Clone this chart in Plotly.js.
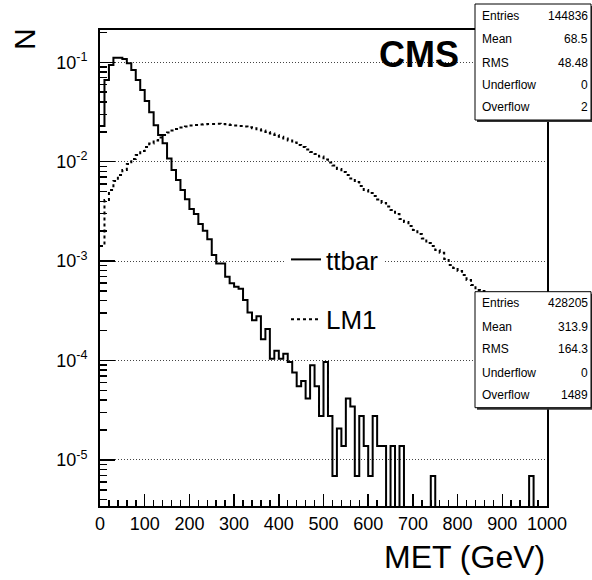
<!DOCTYPE html>
<html><head><meta charset="utf-8">
<script src="https://cdn.plot.ly/plotly-3.0.1.min.js"></script>
<style>html,body{margin:0;padding:0;background:#fff}#chart{width:592px;height:580px}</style>
</head><body><div id="chart"></div><script>
// Histogram definition: 100 bins from 0 to 1000 GeV
const binLow = 0, binHigh = 1000, nBins = 100;

// ttbar MET distribution (normalised), bin by bin
const ttbar = [
 0.0229,0.0664,0.0940,0.111,0.111,0.108,0.0977,0.0837,0.0664,0.0526,
 0.0408,0.0314,0.0232,0.0186,0.0153,0.0108,0.00826,0.00655,0.00519,0.00419,
 0.00334,0.00298,0.00236,0.00202,0.00166,0.00115,0.000946,0.000946,0.000697,0.000598,
 0.000553,0.000527,0.000406,0.000304,0.000254,0.000279,0.000164,0.000207,0.000104,0.000125,
 0.000104,0.000117,9.66e-5,7.59e-5,5.52e-5,6.21e-5,4.14e-5,8.97e-5,5.52e-5,2.76e-5,
 9.66e-5,2.76e-5,6.9e-6,2.07e-5,1.38e-5,4.14e-5,3.45e-5,6.9e-6,2.76e-5,1.38e-5,
 6.9e-6,2.76e-5,1.38e-5,1.38e-5,0,1.38e-5,0,1.38e-5,0,0,
 0,0,0,0,6.9e-6,0,0,0,0,0,
 0,0,0,0,0,0,0,0,0,0,
 0,0,0,0,0,0,6.9e-6,0,0,0
];

// LM1 MET distribution (normalised), bin by bin
const lm1 = [
 0.00142,0.00412,0.00519,0.00639,0.00735,0.00826,0.00949,0.01065,0.01167,0.01282,
 0.01406,0.01524,0.01633,0.0175,0.01857,0.01967,0.0206,0.02133,0.02208,0.0226,
 0.02312,0.0234,0.02366,0.02377,0.02393,0.02393,0.02404,0.02393,0.02377,0.0234,
 0.02312,0.02286,0.0226,0.02218,0.02168,0.02118,0.0206,0.01991,0.01923,0.01857,
 0.01782,0.0171,0.01633,0.01559,0.01472,0.01406,0.01327,0.01253,0.01195,0.01128,
 0.01052,0.00981,0.00916,0.00845,0.00788,0.00735,0.00678,0.00625,0.0057,0.00519,
 0.00484,0.00452,0.00417,0.00385,0.00354,0.00327,0.00298,0.00265,0.00247,0.00225,
 0.00206,0.00187,0.00169,0.00152,0.00142,0.00129,0.00121,0.00105,0.000914,0.000853,
 0.000795,0.000725,0.000646,0.000575,0.000512,0.0005,0.00046,0.00042,0.00038,0.00035,
 0.00031,0.00028,0.00025,0.00023,0.00021,0.00019,0.00017,0.00015,0.00013,0.00012
];

const seriesNames = ['ttbar', 'LM1'];
const xTickVals = [0,100,200,300,400,500,600,700,800,900,1000];
const xTickText = ['0','100','200','300','400','500','600','700','800','900','1000'];
const yTickVals = [1e-5,1e-4,1e-3,1e-2,1e-1];
const yTickText = ['10<sup>-5</sup>','10<sup>-4</sup>','10<sup>-3</sup>','10<sup>-2</sup>','10<sup>-1</sup>'];
const xTitle = 'MET (GeV)';
const yTitle = 'N';
const cmsLabel = 'CMS';
const statLabels = ['Entries','Mean','RMS','Underflow','Overflow'];
const ttbarStats = ['144836','68.5','48.48','0','2'];
const lm1Stats = ['428205','313.9','164.3','0','1489'];

// ---- drawing ----
const W = 592, H = 580;
const M = {l:100, r:45, t:30, b:74};
const PW = W - M.l - M.r, PH = H - M.t - M.b;
const px = x => (x - M.l) / PW;            // pixel -> paper x
const py = y => (H - M.b - y) / PH;         // pixel -> paper y

function steps(vals){
  const w = (binHigh - binLow) / nBins;
  const xs = [], ys = [];
  for (let i = 0; i < vals.length; i++){
    xs.push(binLow + i*w);
    ys.push(vals[i] > 0 ? vals[i] : 1e-9);
  }
  xs.push(binHigh);
  ys.push(ys[ys.length-1]);
  return {x: xs, y: ys};
}

const s1 = steps(ttbar), s2 = steps(lm1);
const traces = [
  {x: s1.x, y: s1.y, type:'scatter', mode:'lines', name: seriesNames[0], legendgroup:'a',
   line:{shape:'hv', color:'#000', width:2}, hoverinfo:'skip'},
  {x: s2.x, y: s2.y, type:'scatter', mode:'lines', name: seriesNames[1], legendgroup:'b',
   line:{shape:'hv', color:'#000', width:2, dash:'3px,3px'}, hoverinfo:'skip'}
];

const minorY = [];
for (let e = -6; e <= -1; e++) for (let m = 2; m <= 9; m++) minorY.push(m * Math.pow(10, e));

const font = 'Liberation Sans, Arial, Helvetica, sans-serif';
const shapes = [];
const annotations = [];
function statsBox(top, bottom, rows, values){
  shapes.push({type:'rect', xref:'paper', yref:'paper', x0:px(477), x1:px(594), y0:py(bottom+2), y1:py(top+2),
    fillcolor:'#333', line:{width:0}, layer:'above'});
  shapes.push({type:'rect', xref:'paper', yref:'paper', x0:px(475), x1:px(591), y0:py(bottom), y1:py(top),
    fillcolor:'#fff', line:{color:'#000', width:1}, layer:'above'});
  rows.forEach((ry, i) => {
    annotations.push({xref:'paper', yref:'paper', x:px(480), y:py(ry), xanchor:'left', yanchor:'middle',
      text: statLabels[i], showarrow:false, font:{family:font, size:12, color:'#000'}});
    annotations.push({xref:'paper', yref:'paper', x:px(589.5), y:py(ry), xanchor:'right', yanchor:'middle',
      text: values[i], showarrow:false, font:{family:font, size:12, color:'#000'}});
  });
}
statsBox(4, 120, [16, 39.3, 62.7, 85, 107.3], ttbarStats);
statsBox(291.7, 407.7, [303.3, 326.7, 349.3, 372.7, 395], lm1Stats);

annotations.push({xref:'paper', yref:'paper', x:px(547), y:py(557), xanchor:'right', yanchor:'middle',
  text: xTitle, showarrow:false, font:{family:font, size:32, color:'#000'}});
annotations.push({xref:'paper', yref:'paper', x:px(24), y:py(39), xanchor:'center', yanchor:'middle',
  text: yTitle, textangle:-90, showarrow:false, font:{family:font, size:30, color:'#000'}});
annotations.push({xref:'paper', yref:'paper', x:px(419), y:py(54), xanchor:'center', yanchor:'middle',
  text: '<b>' + cmsLabel + '</b>', showarrow:false, font:{family:font, size:36, color:'#000'}});

const layout = {
  width: W, height: H,
  margin: M,
  paper_bgcolor:'#fff', plot_bgcolor:'#fff',
  font:{family:font, color:'#000'},
  showlegend: true,
  legend:{x:px(286), y:py(236), xanchor:'left', yanchor:'top', bgcolor:'#fff', borderwidth:0,
    font:{family:font, size:26, color:'#000'}, tracegroupgap:23, traceorder:'grouped'},
  xaxis:{range:[binLow, binHigh], showgrid:false, zeroline:false, showline:true, linecolor:'#000', linewidth:2,
    mirror:true, tickmode:'array', tickvals:xTickVals, ticktext:xTickText, ticks:'inside', ticklen:12,
    tickwidth:1.5, tickcolor:'#000', tickfont:{family:font, size:18, color:'#000'},
    minor:{dtick:20, ticks:'inside', ticklen:6, tickwidth:1.5, tickcolor:'#000', showgrid:false},
    automargin:false},
  yaxis:{type:'log', range:[-5.464, -0.675], showline:true, linecolor:'#000', linewidth:2, mirror:true,
    zeroline:false, tickmode:'array', tickvals:yTickVals, ticktext:yTickText, ticks:'inside', ticklen:15,
    tickwidth:1.5, tickcolor:'#000', tickfont:{family:font, size:18, color:'#000'}, ticklabelstandoff:7,
    showgrid:true, gridcolor:'#444', gridwidth:1, griddash:'1px,2px',
    minor:{tickmode:'array', tickvals:minorY, ticks:'inside', ticklen:7, tickwidth:1.5, tickcolor:'#000', showgrid:false},
    automargin:false},
  shapes: shapes,
  annotations: annotations
};

Plotly.newPlot('chart', traces, layout, {displayModeBar:false, staticPlot:true});
</script></body></html>
